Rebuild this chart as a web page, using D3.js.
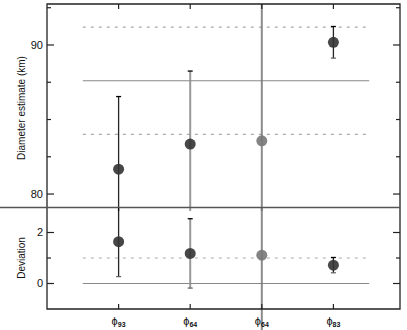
<!DOCTYPE html>
<html><head><meta charset="utf-8">
<script src="https://cdn.jsdelivr.net/npm/d3@7/dist/d3.min.js"></script>
<style>body{margin:0;background:#fff}svg{display:block}text{font-family:"Liberation Sans",Arial,sans-serif;fill:#111}</style>
</head><body>
<script>
const catSymbol = ["ϕ","ϕ","ϕ","ϕ"];
const catSub = ["93","64","64","83"];
const diam = [81.67, 83.35, 83.57, 90.18];
const diamErr = [4.87, 4.9, 30, 1.06];
const dev = [1.64, 1.18, 1.11, 0.72];
const devErr = [1.37, 1.36, 10, 0.3];
const diamRef = 87.6, diamBand = 3.6;
const devRef = [0, 1];
const diamTicks = [80, 90];
const diamMinor = [82.5, 85, 87.5, 92.5];
const devTicks = [0, 2];
const devMinor = [1];
const ptColor = ["#333","#333","#777","#333"];
const barColor = ["#000","#888","#777","#000"];

const W=407,H=330, L=47, R=400;
const svg=d3.select("body").append("svg").attr("width",W).attr("height",H);
const x=d3.scaleLinear().domain([-1,3.93]).range([L,R]);
const yT=d3.scaleLinear().domain([79.13,92.75]).range([207,4]);
const yB=d3.scaleLinear().domain([-1,3]).range([309,207]);
const idx=d3.range(catSub.length);

const defs=svg.append("defs");
defs.append("clipPath").attr("id","cT").append("rect").attr("x",0).attr("y",4).attr("width",W).attr("height",207);
defs.append("clipPath").attr("id","cB").append("rect").attr("x",0).attr("y",207).attr("width",W).attr("height",H-207);

function panel(y, vals, errs, refs, clip){
  const g=svg.append("g").attr("clip-path",`url(#${clip})`);
  refs.forEach(r=>{
    g.append("line").attr("x1",x(-0.5)).attr("x2",x(3.5)).attr("y1",y(r.v)).attr("y2",y(r.v))
      .attr("stroke",r.dash?"#aaa":"#888").attr("stroke-width",1.2).attr("stroke-dasharray",r.dash?"3,5":null);
  });
  g.selectAll(".eb").data(idx).enter().append("line")
    .attr("x1",i=>x(i)).attr("x2",i=>x(i))
    .attr("y1",i=>y(vals[i]+errs[i])).attr("y2",i=>y(vals[i]-errs[i]))
    .attr("stroke",i=>barColor[i]).attr("stroke-width",i=>barColor[i]==="#000"?1.3:2).attr("opacity",0.85);
  [1,-1].forEach(s=>{
    g.selectAll(".cap"+s).data(idx).enter().append("line")
      .attr("x1",i=>x(i)-2.5).attr("x2",i=>x(i)+2.5)
      .attr("y1",i=>y(vals[i]+s*errs[i])).attr("y2",i=>y(vals[i]+s*errs[i]))
      .attr("stroke",i=>s>0?"#000":"#666").attr("stroke-width",1.3);
  });
  g.selectAll("circle").data(idx).enter().append("circle")
    .attr("cx",i=>x(i)).attr("cy",i=>y(vals[i])).attr("r",5.5)
    .attr("fill",i=>ptColor[i]).attr("opacity",0.9);
  return g;
}
panel(yT, diam, diamErr, [{v:diamRef},{v:diamRef+diamBand,dash:1},{v:diamRef-diamBand,dash:1}], "cT");
panel(yB, dev, devErr, [{v:devRef[0]},{v:devRef[1],dash:1}], "cB");

// frame
const fr=svg.append("g").attr("stroke","#222").attr("stroke-width",1.3).attr("fill","none");
fr.append("path").attr("d",`M${L},${yT.range()[1]}H${R}V${yB.range()[0]}H${L}Z`);
svg.append("line").attr("x1",0).attr("x2",R).attr("y1",207.5).attr("y2",207.5).attr("stroke","#555").attr("stroke-width",1.5);

// ticks
function yticks(y, maj, min){
  maj.forEach(v=>{[[L,L+7],[R,R-7]].forEach(([a,b])=>svg.append("line").attr("x1",a).attr("x2",b).attr("y1",y(v)).attr("y2",y(v)).attr("stroke","#222").attr("stroke-width",1.2));
    svg.append("text").attr("x",L-4).attr("y",y(v)).attr("dy","0.35em").attr("text-anchor","end").attr("font-size",11).text(v);});
  min.forEach(v=>{[[L,L+4],[R,R-4]].forEach(([a,b])=>svg.append("line").attr("x1",a).attr("x2",b).attr("y1",y(v)).attr("y2",y(v)).attr("stroke","#222").attr("stroke-width",1.2));});
}
yticks(yT, diamTicks, diamMinor);
yticks(yB, devTicks, devMinor);
idx.forEach(i=>{
  svg.append("line").attr("x1",x(i)).attr("x2",x(i)).attr("y1",4).attr("y2",9).attr("stroke","#222").attr("stroke-width",1.2);
  svg.append("line").attr("x1",x(i)).attr("x2",x(i)).attr("y1",309).attr("y2",304).attr("stroke","#222").attr("stroke-width",1.2);
  const t=svg.append("text").attr("x",x(i)).attr("y",325).attr("text-anchor","middle").attr("font-size",11);
  t.append("tspan").text(catSymbol[i]);
  t.append("tspan").attr("font-size",7).attr("font-weight","bold").attr("dy",2).text(catSub[i]);
});
svg.append("text").attr("transform","translate(25,108) rotate(-90)").attr("text-anchor","middle").attr("font-size",10).text("Diameter estimate (km)");
svg.append("text").attr("transform","translate(25,258) rotate(-90)").attr("text-anchor","middle").attr("font-size",10).text("Deviation");
</script>
</body></html>
